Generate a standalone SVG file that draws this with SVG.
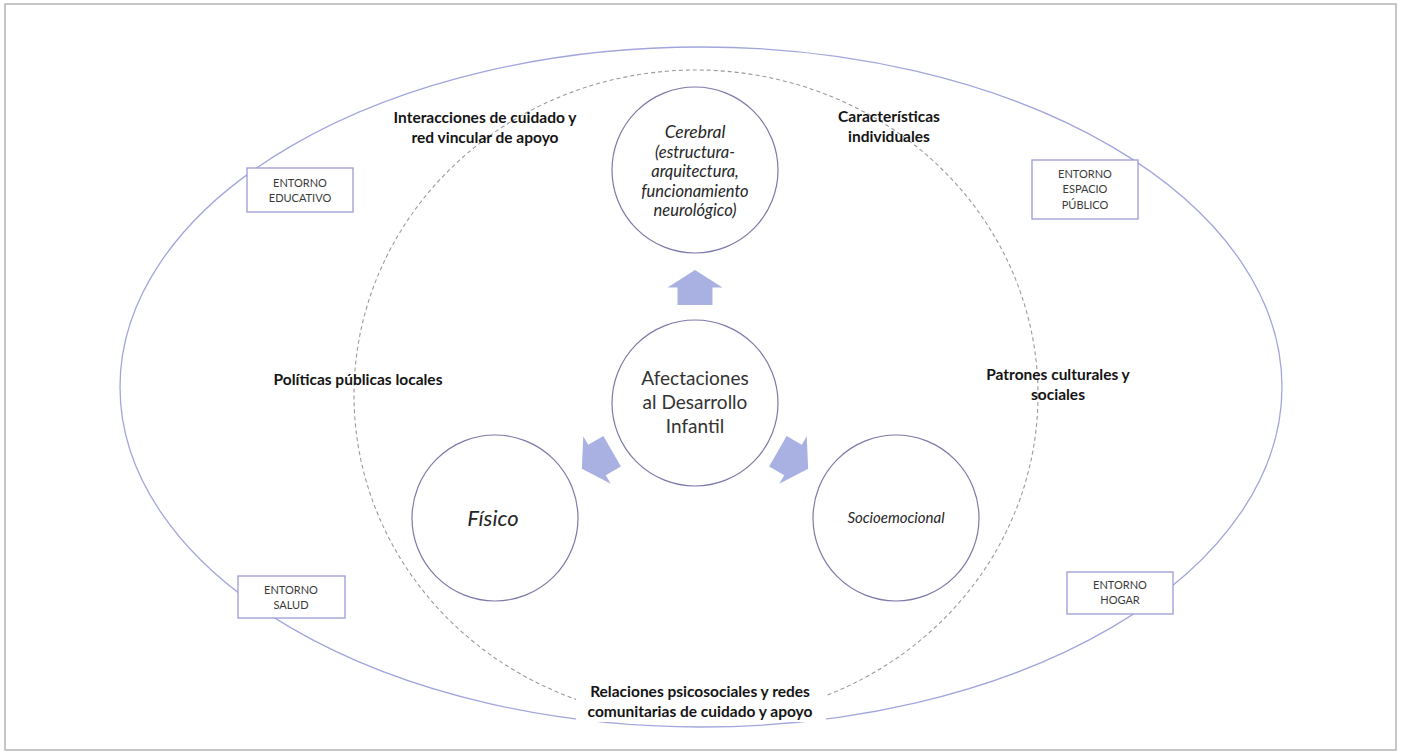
<svg xmlns="http://www.w3.org/2000/svg" width="1401" height="755" viewBox="0 0 1401 755">
<style>
.frame{fill:#fff;stroke:#b4b4b8;stroke-width:1.5}
.outer{fill:none;stroke:#a2a6dc;stroke-width:1.3}
.dash{fill:none;stroke:#9a9a9e;stroke-width:1.1;stroke-dasharray:4 3}
.node{fill:#fff;stroke:#7c7aa8;stroke-width:1.2}
.arrow{fill:#a9b1e2}
.box{fill:#fff;stroke:#9c9ad6;stroke-width:1.3}
.lbl{font-family:Lato,"Liberation Sans",sans-serif;font-weight:bold;font-size:15.5px;fill:#141414;text-anchor:middle}
.env{font-family:Lato,"Liberation Sans",sans-serif;font-size:11px;fill:#3a3a3a;text-anchor:middle}
.main{font-family:Lato,"Liberation Sans",sans-serif;font-size:19px;fill:#333;text-anchor:middle}
.it{font-family:Lato,"Liberation Sans",sans-serif;font-style:italic;fill:#262626;text-anchor:middle}
</style>
<rect class="frame" x="5" y="4" width="1391" height="746"/>
<ellipse id="entorno" class="outer" cx="701" cy="387" rx="581" ry="340"/>
<ellipse id="individuo" class="dash" cx="696" cy="395" rx="342" ry="325"/>
<g id="labels">
<text class="lbl" x="485" y="123">Interacciones de cuidado y</text>
<text class="lbl" x="485" y="143">red vincular de apoyo</text>
<text class="lbl" x="889" y="122">Características</text>
<text class="lbl" x="889" y="142">individuales</text>
<text class="lbl" x="358" y="385">Políticas públicas locales</text>
<text class="lbl" x="1058" y="380">Patrones culturales y</text>
<text class="lbl" x="1058" y="400">sociales</text>
</g>
<g id="relaciones">
<rect x="576" y="682" width="250" height="40" fill="#fff"/>
<text class="lbl" x="700" y="697">Relaciones psicosociales y redes</text>
<text class="lbl" x="700" y="717">comunitarias de cuidado y apoyo</text>
</g>
<g id="connectors">
<path id="arrow-up" class="arrow" transform="translate(695,287.5)" d="M0,-17.5 L27.5,0 L17.5,0 L17.5,17.5 L-17.5,17.5 L-17.5,0 L-27.5,0 Z"/>
<path id="arrow-left" class="arrow" transform="translate(597,460) rotate(240)" d="M0,-17.5 L27.5,0 L17.5,0 L17.5,17.5 L-17.5,17.5 L-17.5,0 L-27.5,0 Z"/>
<path id="arrow-right" class="arrow" transform="translate(793,460) rotate(120)" d="M0,-17.5 L27.5,0 L17.5,0 L17.5,17.5 L-17.5,17.5 L-17.5,0 L-27.5,0 Z"/>
</g>
<g id="cerebral">
<circle class="node" cx="695" cy="170" r="83"/>
<text class="it" x="695" y="138" font-size="17.5">Cerebral</text>
<text class="it" x="695" y="158" font-size="16.5">(estructura-</text>
<text class="it" x="695" y="177" font-size="16.5">arquitectura,</text>
<text class="it" x="695" y="197" font-size="16.5">funcionamiento</text>
<text class="it" x="695" y="216" font-size="16.5">neurológico)</text>
</g>
<g id="afectaciones">
<circle class="node" cx="695" cy="403" r="83"/>
<text class="main" x="695" y="385">Afectaciones</text>
<text class="main" x="695" y="409">al Desarrollo</text>
<text class="main" x="695" y="433">Infantil</text>
</g>
<g id="fisico">
<circle class="node" cx="495" cy="518" r="83"/>
<text class="it" x="493" y="526" font-size="22">Físico</text>
</g>
<g id="socioemocional">
<circle class="node" cx="896" cy="518" r="83"/>
<text class="it" x="896" y="523" font-size="15">Socioemocional</text>
</g>
<g id="entorno-educativo">
<rect class="box" x="247" y="168" width="106" height="44"/>
<text class="env" x="300" y="187">ENTORNO</text>
<text class="env" x="300" y="202">EDUCATIVO</text>
</g>
<g id="entorno-espacio">
<rect class="box" x="1032" y="160" width="106" height="59"/>
<text class="env" x="1085" y="178">ENTORNO</text>
<text class="env" x="1085" y="193">ESPACIO</text>
<text class="env" x="1085" y="209">PÚBLICO</text>
</g>
<g id="entorno-salud">
<rect class="box" x="238" y="576" width="107" height="42"/>
<text class="env" x="291" y="594">ENTORNO</text>
<text class="env" x="291" y="609">SALUD</text>
</g>
<g id="entorno-hogar">
<rect class="box" x="1067" y="572" width="106" height="42"/>
<text class="env" x="1120" y="589">ENTORNO</text>
<text class="env" x="1120" y="604">HOGAR</text>
</g>
</svg>
